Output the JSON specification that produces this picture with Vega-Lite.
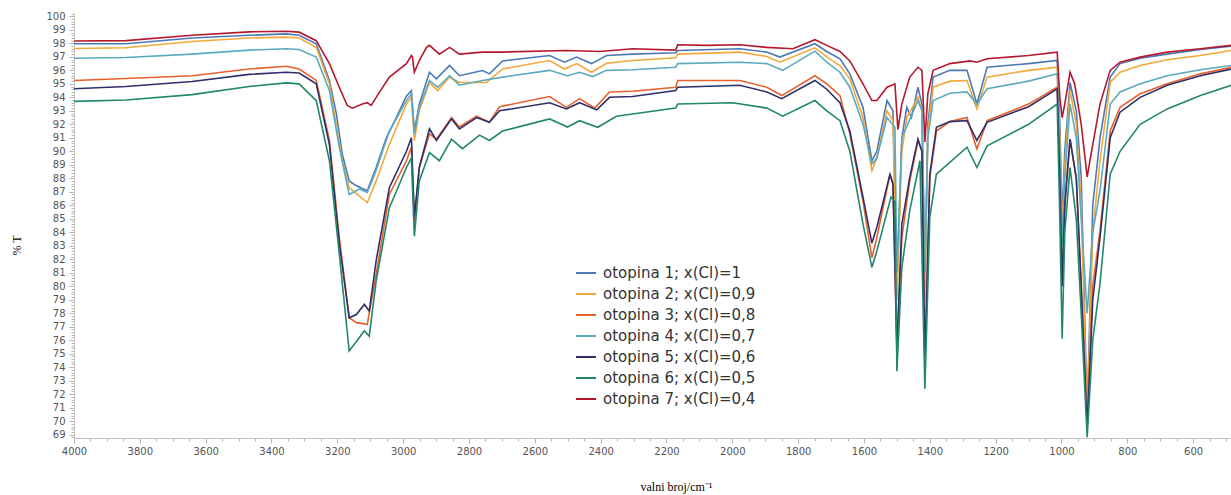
{
"$schema":"https://vega.github.io/schema/vega-lite/v6.json",
"width":1157,"height":425,
"autosize":{"type":"none"},
"padding":{"left":74,"top":13,"right":0,"bottom":57},
"background":"white",
"config":{"view":{"stroke":null}},
"data":{"values":[
{"s":1,"w":4000,"t":97.97},{"s":1,"w":3842,"t":97.97},{"s":1,"w":3641,"t":98.4},{"s":1,"w":3468,"t":98.6},{"s":1,"w":3355,"t":98.7},{"s":1,"w":3316,"t":98.6},{"s":1,"w":3264,"t":97.97},{"s":1,"w":3224,"t":95.25},{"s":1,"w":3203,"t":92.8},{"s":1,"w":3185,"t":89.8},{"s":1,"w":3164,"t":87.8},{"s":1,"w":3142,"t":87.44},{"s":1,"w":3109,"t":87.07},{"s":1,"w":3082,"t":88.8},{"s":1,"w":3051,"t":91.0},{"s":1,"w":3021,"t":92.5},{"s":1,"w":2990,"t":94.1},{"s":1,"w":2975,"t":94.5},{"s":1,"w":2966,"t":91.5},{"s":1,"w":2951,"t":93.5},{"s":1,"w":2920,"t":95.86},{"s":1,"w":2899,"t":95.37},{"s":1,"w":2859,"t":96.36},{"s":1,"w":2829,"t":95.6},{"s":1,"w":2759,"t":95.99},{"s":1,"w":2738,"t":95.74},{"s":1,"w":2698,"t":96.7},{"s":1,"w":2555,"t":97.1},{"s":1,"w":2510,"t":96.6},{"s":1,"w":2473,"t":96.98},{"s":1,"w":2428,"t":96.5},{"s":1,"w":2382,"t":97.1},{"s":1,"w":2303,"t":97.2},{"s":1,"w":2172,"t":97.3},{"s":1,"w":2166,"t":97.47},{"s":1,"w":1977,"t":97.6},{"s":1,"w":1895,"t":97.35},{"s":1,"w":1856,"t":96.98},{"s":1,"w":1749,"t":97.97},{"s":1,"w":1713,"t":97.4},{"s":1,"w":1673,"t":96.86},{"s":1,"w":1643,"t":95.74},{"s":1,"w":1603,"t":93.26},{"s":1,"w":1576,"t":89.3},{"s":1,"w":1561,"t":90.0},{"s":1,"w":1530,"t":93.76},{"s":1,"w":1512,"t":93.0},{"s":1,"w":1500,"t":80.0},{"s":1,"w":1485,"t":91.0},{"s":1,"w":1470,"t":93.26},{"s":1,"w":1456,"t":92.5},{"s":1,"w":1436,"t":94.75},{"s":1,"w":1424,"t":93.5},{"s":1,"w":1415,"t":80.0},{"s":1,"w":1406,"t":92.0},{"s":1,"w":1390,"t":95.5},{"s":1,"w":1339,"t":96.0},{"s":1,"w":1287,"t":96.0},{"s":1,"w":1257,"t":93.5},{"s":1,"w":1226,"t":96.23},{"s":1,"w":1100,"t":96.5},{"s":1,"w":1013,"t":96.73},{"s":1,"w":1005,"t":92},{"s":1,"w":998,"t":85},{"s":1,"w":990,"t":90},{"s":1,"w":974,"t":95.1},{"s":1,"w":955,"t":93},{"s":1,"w":940,"t":88},{"s":1,"w":922,"t":70.5},{"s":1,"w":905,"t":86},{"s":1,"w":883,"t":91.0},{"s":1,"w":852,"t":95.5},{"s":1,"w":822,"t":96.5},{"s":1,"w":761,"t":96.9},{"s":1,"w":679,"t":97.2},{"s":1,"w":578,"t":97.55},{"s":1,"w":484,"t":97.8},
{"s":2,"w":4000,"t":97.62},{"s":2,"w":3842,"t":97.67},{"s":2,"w":3641,"t":98.14},{"s":2,"w":3468,"t":98.4},{"s":2,"w":3355,"t":98.46},{"s":2,"w":3316,"t":98.4},{"s":2,"w":3264,"t":97.7},{"s":2,"w":3224,"t":95.0},{"s":2,"w":3185,"t":89.3},{"s":2,"w":3164,"t":87.3},{"s":2,"w":3109,"t":86.2},{"s":2,"w":3082,"t":87.8},{"s":2,"w":3042,"t":90.5},{"s":2,"w":2990,"t":93.5},{"s":2,"w":2975,"t":94.0},{"s":2,"w":2966,"t":90.8},{"s":2,"w":2951,"t":93.0},{"s":2,"w":2920,"t":95.1},{"s":2,"w":2895,"t":94.5},{"s":2,"w":2859,"t":95.5},{"s":2,"w":2829,"t":95.1},{"s":2,"w":2747,"t":95.1},{"s":2,"w":2698,"t":96.1},{"s":2,"w":2555,"t":96.73},{"s":2,"w":2510,"t":96.1},{"s":2,"w":2473,"t":96.5},{"s":2,"w":2428,"t":95.86},{"s":2,"w":2382,"t":96.53},{"s":2,"w":2303,"t":96.73},{"s":2,"w":2172,"t":96.93},{"s":2,"w":2166,"t":97.2},{"s":2,"w":1977,"t":97.35},{"s":2,"w":1895,"t":97.03},{"s":2,"w":1856,"t":96.6},{"s":2,"w":1749,"t":97.67},{"s":2,"w":1713,"t":97.0},{"s":2,"w":1673,"t":96.36},{"s":2,"w":1643,"t":95.37},{"s":2,"w":1603,"t":92.5},{"s":2,"w":1576,"t":88.56},{"s":2,"w":1561,"t":89.5},{"s":2,"w":1530,"t":93.0},{"s":2,"w":1512,"t":92.27},{"s":2,"w":1500,"t":79},{"s":2,"w":1485,"t":90.0},{"s":2,"w":1470,"t":92.5},{"s":2,"w":1436,"t":94.0},{"s":2,"w":1424,"t":93.0},{"s":2,"w":1415,"t":79},{"s":2,"w":1406,"t":91.5},{"s":2,"w":1390,"t":94.75},{"s":2,"w":1339,"t":95.2},{"s":2,"w":1287,"t":95.25},{"s":2,"w":1257,"t":93.14},{"s":2,"w":1226,"t":95.5},{"s":2,"w":1100,"t":96.0},{"s":2,"w":1013,"t":96.23},{"s":2,"w":1005,"t":91},{"s":2,"w":998,"t":84},{"s":2,"w":990,"t":89},{"s":2,"w":974,"t":94.5},{"s":2,"w":955,"t":92},{"s":2,"w":940,"t":86},{"s":2,"w":922,"t":70.0},{"s":2,"w":905,"t":84},{"s":2,"w":883,"t":89.3},{"s":2,"w":852,"t":95.1},{"s":2,"w":822,"t":95.86},{"s":2,"w":761,"t":96.36},{"s":2,"w":679,"t":96.78},{"s":2,"w":578,"t":97.1},{"s":2,"w":484,"t":97.47},
{"s":3,"w":4000,"t":95.25},{"s":3,"w":3842,"t":95.4},{"s":3,"w":3641,"t":95.6},{"s":3,"w":3468,"t":96.1},{"s":3,"w":3355,"t":96.3},{"s":3,"w":3316,"t":96.1},{"s":3,"w":3264,"t":95.25},{"s":3,"w":3224,"t":90.8},{"s":3,"w":3194,"t":83.6},{"s":3,"w":3164,"t":77.66},{"s":3,"w":3142,"t":77.3},{"s":3,"w":3109,"t":77.17},{"s":3,"w":3082,"t":80.9},{"s":3,"w":3042,"t":86.8},{"s":3,"w":2990,"t":89.3},{"s":3,"w":2975,"t":90.3},{"s":3,"w":2966,"t":84.8},{"s":3,"w":2951,"t":88.8},{"s":3,"w":2920,"t":91.3},{"s":3,"w":2899,"t":90.9},{"s":3,"w":2853,"t":92.5},{"s":3,"w":2829,"t":91.8},{"s":3,"w":2777,"t":92.6},{"s":3,"w":2738,"t":92.15},{"s":3,"w":2707,"t":93.3},{"s":3,"w":2555,"t":94.06},{"s":3,"w":2504,"t":93.26},{"s":3,"w":2464,"t":93.9},{"s":3,"w":2418,"t":93.2},{"s":3,"w":2373,"t":94.4},{"s":3,"w":2303,"t":94.45},{"s":3,"w":2172,"t":94.75},{"s":3,"w":2166,"t":95.25},{"s":3,"w":1977,"t":95.25},{"s":3,"w":1895,"t":94.75},{"s":3,"w":1850,"t":94.13},{"s":3,"w":1749,"t":95.6},{"s":3,"w":1713,"t":95.0},{"s":3,"w":1673,"t":94.13},{"s":3,"w":1643,"t":91.3},{"s":3,"w":1603,"t":86.3},{"s":3,"w":1576,"t":82.1},{"s":3,"w":1561,"t":83.6},{"s":3,"w":1521,"t":88.3},{"s":3,"w":1512,"t":87.57},{"s":3,"w":1500,"t":75},{"s":3,"w":1485,"t":83.6},{"s":3,"w":1461,"t":87.8},{"s":3,"w":1436,"t":90.8},{"s":3,"w":1424,"t":90.0},{"s":3,"w":1415,"t":74.5},{"s":3,"w":1400,"t":88.06},{"s":3,"w":1380,"t":91.5},{"s":3,"w":1339,"t":92.2},{"s":3,"w":1287,"t":92.5},{"s":3,"w":1257,"t":90.17},{"s":3,"w":1226,"t":92.27},{"s":3,"w":1100,"t":93.5},{"s":3,"w":1013,"t":94.75},{"s":3,"w":1005,"t":88},{"s":3,"w":998,"t":80},{"s":3,"w":990,"t":86},{"s":3,"w":974,"t":90.9},{"s":3,"w":955,"t":88},{"s":3,"w":940,"t":80},{"s":3,"w":922,"t":69.8},{"s":3,"w":905,"t":80},{"s":3,"w":883,"t":84.1},{"s":3,"w":852,"t":91.5},{"s":3,"w":822,"t":93.26},{"s":3,"w":761,"t":94.26},{"s":3,"w":679,"t":95.0},{"s":3,"w":578,"t":95.74},{"s":3,"w":484,"t":96.23},
{"s":4,"w":4000,"t":96.9},{"s":4,"w":3842,"t":96.95},{"s":4,"w":3641,"t":97.2},{"s":4,"w":3468,"t":97.5},{"s":4,"w":3355,"t":97.6},{"s":4,"w":3316,"t":97.55},{"s":4,"w":3264,"t":96.98},{"s":4,"w":3224,"t":94.5},{"s":4,"w":3194,"t":90.3},{"s":4,"w":3164,"t":86.8},{"s":4,"w":3133,"t":87.2},{"s":4,"w":3109,"t":86.95},{"s":4,"w":3082,"t":88.6},{"s":4,"w":3042,"t":91.5},{"s":4,"w":2990,"t":93.76},{"s":4,"w":2975,"t":94.26},{"s":4,"w":2966,"t":91.3},{"s":4,"w":2951,"t":93.26},{"s":4,"w":2920,"t":95.25},{"s":4,"w":2895,"t":94.75},{"s":4,"w":2859,"t":95.6},{"s":4,"w":2829,"t":94.9},{"s":4,"w":2759,"t":95.25},{"s":4,"w":2698,"t":95.5},{"s":4,"w":2555,"t":96.0},{"s":4,"w":2501,"t":95.6},{"s":4,"w":2464,"t":95.86},{"s":4,"w":2424,"t":95.54},{"s":4,"w":2382,"t":96.0},{"s":4,"w":2303,"t":96.04},{"s":4,"w":2172,"t":96.23},{"s":4,"w":2166,"t":96.5},{"s":4,"w":1977,"t":96.6},{"s":4,"w":1895,"t":96.5},{"s":4,"w":1847,"t":96.0},{"s":4,"w":1749,"t":97.42},{"s":4,"w":1713,"t":96.6},{"s":4,"w":1673,"t":95.86},{"s":4,"w":1643,"t":94.75},{"s":4,"w":1603,"t":92.0},{"s":4,"w":1576,"t":89.06},{"s":4,"w":1561,"t":89.5},{"s":4,"w":1530,"t":92.5},{"s":4,"w":1506,"t":91.78},{"s":4,"w":1500,"t":81},{"s":4,"w":1485,"t":91.0},{"s":4,"w":1436,"t":93.76},{"s":4,"w":1424,"t":93.0},{"s":4,"w":1415,"t":81},{"s":4,"w":1406,"t":91},{"s":4,"w":1390,"t":93.76},{"s":4,"w":1339,"t":94.3},{"s":4,"w":1287,"t":94.4},{"s":4,"w":1257,"t":93.5},{"s":4,"w":1226,"t":94.63},{"s":4,"w":1100,"t":95.2},{"s":4,"w":1013,"t":95.74},{"s":4,"w":1005,"t":90},{"s":4,"w":998,"t":83},{"s":4,"w":990,"t":88},{"s":4,"w":974,"t":93.5},{"s":4,"w":955,"t":91},{"s":4,"w":940,"t":85},{"s":4,"w":922,"t":78},{"s":4,"w":905,"t":84},{"s":4,"w":883,"t":87.07},{"s":4,"w":852,"t":93.5},{"s":4,"w":822,"t":94.4},{"s":4,"w":761,"t":95.0},{"s":4,"w":679,"t":95.6},{"s":4,"w":578,"t":96.04},{"s":4,"w":484,"t":96.36},
{"s":5,"w":4000,"t":94.63},{"s":5,"w":3842,"t":94.8},{"s":5,"w":3641,"t":95.17},{"s":5,"w":3468,"t":95.7},{"s":5,"w":3355,"t":95.86},{"s":5,"w":3316,"t":95.8},{"s":5,"w":3264,"t":95.0},{"s":5,"w":3224,"t":90.5},{"s":5,"w":3194,"t":83.2},{"s":5,"w":3164,"t":77.66},{"s":5,"w":3142,"t":77.9},{"s":5,"w":3118,"t":78.65},{"s":5,"w":3103,"t":78.16},{"s":5,"w":3082,"t":81.9},{"s":5,"w":3042,"t":87.3},{"s":5,"w":2990,"t":90.0},{"s":5,"w":2975,"t":91.0},{"s":5,"w":2966,"t":85.1},{"s":5,"w":2951,"t":88.8},{"s":5,"w":2920,"t":91.66},{"s":5,"w":2899,"t":90.8},{"s":5,"w":2853,"t":92.4},{"s":5,"w":2829,"t":91.66},{"s":5,"w":2777,"t":92.5},{"s":5,"w":2738,"t":92.15},{"s":5,"w":2707,"t":93.0},{"s":5,"w":2555,"t":93.6},{"s":5,"w":2504,"t":93.14},{"s":5,"w":2464,"t":93.6},{"s":5,"w":2412,"t":93.07},{"s":5,"w":2373,"t":94.0},{"s":5,"w":2303,"t":94.06},{"s":5,"w":2172,"t":94.5},{"s":5,"w":2166,"t":94.75},{"s":5,"w":1977,"t":94.9},{"s":5,"w":1895,"t":94.4},{"s":5,"w":1850,"t":93.9},{"s":5,"w":1749,"t":95.25},{"s":5,"w":1713,"t":94.6},{"s":5,"w":1673,"t":93.6},{"s":5,"w":1643,"t":91.5},{"s":5,"w":1603,"t":86.6},{"s":5,"w":1576,"t":83.2},{"s":5,"w":1561,"t":84.35},{"s":5,"w":1521,"t":88.3},{"s":5,"w":1512,"t":87.57},{"s":5,"w":1500,"t":75.5},{"s":5,"w":1485,"t":84.6},{"s":5,"w":1461,"t":88.06},{"s":5,"w":1436,"t":90.9},{"s":5,"w":1424,"t":90.0},{"s":5,"w":1415,"t":74},{"s":5,"w":1400,"t":88.3},{"s":5,"w":1380,"t":91.78},{"s":5,"w":1339,"t":92.2},{"s":5,"w":1287,"t":92.27},{"s":5,"w":1257,"t":90.8},{"s":5,"w":1226,"t":92.15},{"s":5,"w":1100,"t":93.3},{"s":5,"w":1013,"t":94.63},{"s":5,"w":1005,"t":88},{"s":5,"w":998,"t":80},{"s":5,"w":990,"t":86},{"s":5,"w":974,"t":90.9},{"s":5,"w":955,"t":88},{"s":5,"w":940,"t":80},{"s":5,"w":922,"t":69.5},{"s":5,"w":905,"t":79},{"s":5,"w":883,"t":83.6},{"s":5,"w":852,"t":91.0},{"s":5,"w":822,"t":92.9},{"s":5,"w":761,"t":94.0},{"s":5,"w":679,"t":94.9},{"s":5,"w":578,"t":95.6},{"s":5,"w":484,"t":96.1},
{"s":6,"w":4000,"t":93.7},{"s":6,"w":3842,"t":93.8},{"s":6,"w":3641,"t":94.2},{"s":6,"w":3468,"t":94.8},{"s":6,"w":3355,"t":95.07},{"s":6,"w":3316,"t":95.0},{"s":6,"w":3264,"t":93.76},{"s":6,"w":3224,"t":89.3},{"s":6,"w":3194,"t":82.4},{"s":6,"w":3164,"t":75.2},{"s":6,"w":3142,"t":75.9},{"s":6,"w":3118,"t":76.7},{"s":6,"w":3103,"t":76.3},{"s":6,"w":3082,"t":80.4},{"s":6,"w":3042,"t":85.8},{"s":6,"w":2990,"t":88.8},{"s":6,"w":2975,"t":89.5},{"s":6,"w":2966,"t":83.7},{"s":6,"w":2951,"t":87.8},{"s":6,"w":2920,"t":89.9},{"s":6,"w":2890,"t":89.3},{"s":6,"w":2853,"t":90.9},{"s":6,"w":2820,"t":90.2},{"s":6,"w":2768,"t":91.2},{"s":6,"w":2738,"t":90.8},{"s":6,"w":2698,"t":91.5},{"s":6,"w":2555,"t":92.4},{"s":6,"w":2501,"t":91.8},{"s":6,"w":2464,"t":92.27},{"s":6,"w":2409,"t":91.78},{"s":6,"w":2352,"t":92.6},{"s":6,"w":2303,"t":92.77},{"s":6,"w":2172,"t":93.2},{"s":6,"w":2166,"t":93.5},{"s":6,"w":1999,"t":93.6},{"s":6,"w":1895,"t":93.2},{"s":6,"w":1847,"t":92.6},{"s":6,"w":1749,"t":93.76},{"s":6,"w":1713,"t":93.0},{"s":6,"w":1673,"t":92.27},{"s":6,"w":1643,"t":90.0},{"s":6,"w":1603,"t":84.6},{"s":6,"w":1576,"t":81.4},{"s":6,"w":1561,"t":82.6},{"s":6,"w":1518,"t":86.6},{"s":6,"w":1506,"t":86.3},{"s":6,"w":1500,"t":73.7},{"s":6,"w":1485,"t":81.4},{"s":6,"w":1461,"t":85.6},{"s":6,"w":1430,"t":89.3},{"s":6,"w":1415,"t":72.4},{"s":6,"w":1400,"t":85.1},{"s":6,"w":1380,"t":88.3},{"s":6,"w":1287,"t":90.3},{"s":6,"w":1257,"t":88.8},{"s":6,"w":1226,"t":90.4},{"s":6,"w":1100,"t":92.0},{"s":6,"w":1013,"t":93.5},{"s":6,"w":1005,"t":85},{"s":6,"w":998,"t":76.1},{"s":6,"w":990,"t":84},{"s":6,"w":974,"t":88.8},{"s":6,"w":955,"t":85},{"s":6,"w":940,"t":78},{"s":6,"w":922,"t":68.8},{"s":6,"w":905,"t":76},{"s":6,"w":883,"t":80.2},{"s":6,"w":852,"t":88.3},{"s":6,"w":822,"t":90.0},{"s":6,"w":761,"t":92.0},{"s":6,"w":679,"t":93.14},{"s":6,"w":578,"t":94.13},{"s":6,"w":484,"t":94.9},
{"s":7,"w":4000,"t":98.17},{"s":7,"w":3842,"t":98.2},{"s":7,"w":3641,"t":98.6},{"s":7,"w":3468,"t":98.85},{"s":7,"w":3355,"t":98.9},{"s":7,"w":3316,"t":98.83},{"s":7,"w":3264,"t":98.2},{"s":7,"w":3224,"t":96.5},{"s":7,"w":3194,"t":94.75},{"s":7,"w":3170,"t":93.4},{"s":7,"w":3154,"t":93.2},{"s":7,"w":3124,"t":93.5},{"s":7,"w":3109,"t":93.6},{"s":7,"w":3097,"t":93.4},{"s":7,"w":3082,"t":94.0},{"s":7,"w":3042,"t":95.5},{"s":7,"w":2990,"t":96.5},{"s":7,"w":2975,"t":97.1},{"s":7,"w":2972,"t":97.0},{"s":7,"w":2966,"t":95.86},{"s":7,"w":2951,"t":96.73},{"s":7,"w":2929,"t":97.7},{"s":7,"w":2920,"t":97.85},{"s":7,"w":2890,"t":97.2},{"s":7,"w":2859,"t":97.7},{"s":7,"w":2829,"t":97.2},{"s":7,"w":2759,"t":97.35},{"s":7,"w":2707,"t":97.35},{"s":7,"w":2504,"t":97.47},{"s":7,"w":2403,"t":97.4},{"s":7,"w":2303,"t":97.6},{"s":7,"w":2172,"t":97.5},{"s":7,"w":2166,"t":97.9},{"s":7,"w":2078,"t":97.85},{"s":7,"w":1977,"t":97.9},{"s":7,"w":1895,"t":97.7},{"s":7,"w":1816,"t":97.6},{"s":7,"w":1749,"t":98.27},{"s":7,"w":1713,"t":97.85},{"s":7,"w":1673,"t":97.4},{"s":7,"w":1643,"t":96.7},{"s":7,"w":1603,"t":95.0},{"s":7,"w":1576,"t":93.76},{"s":7,"w":1561,"t":93.76},{"s":7,"w":1530,"t":94.75},{"s":7,"w":1506,"t":95.0},{"s":7,"w":1497,"t":91.6},{"s":7,"w":1485,"t":93.5},{"s":7,"w":1461,"t":95.5},{"s":7,"w":1436,"t":96.23},{"s":7,"w":1424,"t":96.0},{"s":7,"w":1415,"t":90.7},{"s":7,"w":1406,"t":94.26},{"s":7,"w":1390,"t":96.0},{"s":7,"w":1339,"t":96.5},{"s":7,"w":1278,"t":96.7},{"s":7,"w":1257,"t":96.6},{"s":7,"w":1226,"t":96.86},{"s":7,"w":1100,"t":97.1},{"s":7,"w":1013,"t":97.35},{"s":7,"w":1005,"t":94},{"s":7,"w":998,"t":92.5},{"s":7,"w":990,"t":93.5},{"s":7,"w":974,"t":95.86},{"s":7,"w":960,"t":95},{"s":7,"w":940,"t":92},{"s":7,"w":922,"t":88.1},{"s":7,"w":905,"t":90.5},{"s":7,"w":883,"t":93.5},{"s":7,"w":852,"t":96.0},{"s":7,"w":822,"t":96.6},{"s":7,"w":761,"t":96.98},{"s":7,"w":679,"t":97.35},{"s":7,"w":578,"t":97.6},{"s":7,"w":484,"t":97.85}
]},
"transform":[{"lookup":"s","from":{"data":{"values":[
{"s":1,"name":"otopina 1; x(Cl)=1"},{"s":2,"name":"otopina 2; x(Cl)=0,9"},{"s":3,"name":"otopina 3; x(Cl)=0,8"},{"s":4,"name":"otopina 4; x(Cl)=0,7"},{"s":5,"name":"otopina 5; x(Cl)=0,6"},{"s":6,"name":"otopina 6; x(Cl)=0,5"},{"s":7,"name":"otopina 7; x(Cl)=0,4"}]},"key":"s","fields":["name"]}}],
"mark":{"type":"line","strokeWidth":1.6,"clip":true},
"encoding":{
"x":{"field":"w","type":"quantitative","scale":{"domain":[485,4000],"reverse":true,"nice":false,"zero":false},
"axis":{"title":"valni broj/cm⁻¹","values":[4000,3950,3900,3850,3800,3750,3700,3650,3600,3550,3500,3450,3400,3350,3300,3250,3200,3150,3100,3050,3000,2950,2900,2850,2800,2750,2700,2650,2600,2550,2500,2450,2400,2350,2300,2250,2200,2150,2100,2050,2000,1950,1900,1850,1800,1750,1700,1650,1600,1550,1500,1450,1400,1350,1300,1250,1200,1150,1100,1050,1000,950,900,850,800,750,700,650,600,550,500],
"labelExpr":"datum.value % 200 === 0 ? format(datum.value,'d') : ''",
"tickSize":{"condition":{"test":"datum.value % 200 === 0","value":5},"value":3},
"grid":false,"domainColor":"#c4c4c4","tickColor":"#b4b4b4","labelColor":"#555555","labelFont":"DejaVu Sans","labelFontSize":10,"labelPadding":3,"labelOverlap":false,"labelFlush":false,
"titleFont":"Liberation Serif","titleFontSize":12,"titleFontWeight":"normal","titleColor":"#000000","titleX":602,"titleY":52,"titleBaseline":"alphabetic","titleAnchor":null,"titleAlign":"center"}},
"y":{"field":"t","type":"quantitative","scale":{"domain":[68.75,100.25],"nice":false,"zero":false},
"axis":{"title":"% T","tickCount":155,
"labelExpr":"abs(datum.value - round(datum.value)) < 0.001 ? format(datum.value,'d') : ''",
"tickSize":{"condition":{"test":"abs(datum.value - round(datum.value)) < 0.001","value":5},"value":3},
"grid":false,"domainColor":"#c4c4c4","tickColor":"#b4b4b4","labelColor":"#555555","labelFont":"DejaVu Sans","labelFontSize":10,"labelPadding":4,"labelOverlap":false,"labelFlush":false,
"titleFont":"Liberation Serif","titleFontSize":12,"titleFontWeight":"normal","titleColor":"#000000","titleX":-58,"titleY":232,"titleAngle":270,"titleBaseline":"middle","titleAlign":"center"}},
"color":{"field":"name","type":"nominal",
"scale":{"domain":["otopina 1; x(Cl)=1","otopina 2; x(Cl)=0,9","otopina 3; x(Cl)=0,8","otopina 4; x(Cl)=0,7","otopina 5; x(Cl)=0,6","otopina 6; x(Cl)=0,5","otopina 7; x(Cl)=0,4"],
"range":["#4c79b5","#f4a73a","#e8602c","#5aaabf","#2e2f6b","#21876a","#b5182d"]},
"legend":{"title":null,"orient":"none","legendX":501,"legendY":249,"padding":0,"symbolType":"stroke","symbolSize":400,"symbolStrokeWidth":2,"labelFont":"DejaVu Sans","labelFontSize":15,"labelColor":"#333333","rowPadding":2,"labelOffset":6}}
}
}
